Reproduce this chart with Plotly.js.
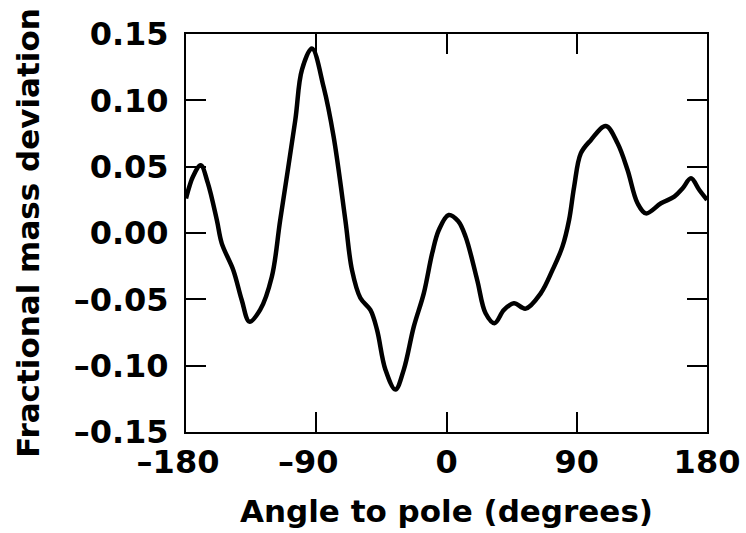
<!DOCTYPE html>
<html>
<head>
<meta charset="utf-8">
<script src="https://cdn.plot.ly/plotly-3.0.1.min.js"></script>
<style>html,body{margin:0;padding:0;background:#fff;}#chart{width:746px;height:533px;}</style>
</head>
<body>
<div id="chart"></div>
<script>
const angleDeg = [-180, -175, -169.8, -165, -158.7, -155.3, -147.3, -141.5, -136.2, -128.8, -120.7, -114.9, -104.5, -99.9, -93, -84.9, -78, -69.9, -65.3, -59.5, -52.6, -48, -42.2, -35.3, -29.5, -22.6, -15.7, -9.9, -5.3, 1.5, 8, 13.2, 21.2, 27, 33.2, 39.7, 46.6, 54.7, 65.1, 73.2, 80.1, 84.7, 88.2, 92.8, 99.7, 110.1, 118.2, 125.1, 132, 137.8, 148.2, 157.4, 163.2, 168.9, 174.7, 180];
const massDev = [0.026, 0.043, 0.051, 0.038, 0.0098, -0.0078, -0.028, -0.0505, -0.0668, -0.058, -0.033, 0.0098, 0.085, 0.123, 0.139, 0.110, 0.0726, 0.0098, -0.028, -0.049, -0.058, -0.073, -0.103, -0.118, -0.103, -0.0706, -0.0455, -0.0153, 0.0023, 0.0136, 0.009, -0.0028, -0.0354, -0.0605, -0.068, -0.058, -0.053, -0.057, -0.0455, -0.028, -0.0103, 0.0098, 0.035, 0.060, 0.070, 0.0807, 0.0676, 0.0475, 0.0224, 0.0148, 0.0224, 0.0274, 0.0337, 0.0412, 0.0324, 0.0249];
const xTicks = [-180, -90, 0, 90, 180];
// en space after negative labels keeps the digits centred on the tick, as in the reference
const xTickText = ['\u2013180\u2002', '\u201390\u2002', '0', '90', '180'];
const yTicks = [-0.15, -0.10, -0.05, 0.00, 0.05, 0.10, 0.15];
const yTickText = ['\u20130.15', '\u20130.10', '\u20130.05', '0.00', '0.05', '0.10', '0.15'];

const fontFam = 'DejaVu Sans, Liberation Sans, Arial, sans-serif';
const trace = {
  x: angleDeg, y: massDev, type: 'scatter', mode: 'lines',
  line: {color: '#000', width: 4.5, shape: 'spline', smoothing: 1},
  hoverinfo: 'skip'
};
const layout = {
  width: 746, height: 533,
  margin: {l: 186, r: 39, t: 34, b: 101},
  paper_bgcolor: '#fff', plot_bgcolor: '#fff',
  showlegend: false,
  font: {family: fontFam, color: '#000'},
  xaxis: {
    range: [-180, 180], tickvals: xTicks, ticktext: xTickText,
    ticks: 'inside', ticklen: 20, tickwidth: 2, tickcolor: '#000',
    showline: true, linewidth: 2, linecolor: '#000', mirror: 'allticks',
    showgrid: false, zeroline: false,
    tickfont: {family: fontFam, size: 32, color: '#000', weight: 'bold'},
    ticklabelstandoff: 1,
    title: {text: '<b>Angle to pole (degrees)</b>', font: {family: fontFam, size: 31, color: '#000'}, standoff: 20}
  },
  yaxis: {
    range: [-0.15, 0.15], tickvals: yTicks, ticktext: yTickText,
    ticks: 'inside', ticklen: 20, tickwidth: 2, tickcolor: '#000',
    showline: true, linewidth: 2, linecolor: '#000', mirror: 'allticks',
    showgrid: false, zeroline: false,
    tickfont: {family: fontFam, size: 32, color: '#000', weight: 'bold'},
    ticklabelstandoff: 9,
    title: {text: '<b>Fractional mass deviation</b>', font: {family: fontFam, size: 31, color: '#000'}, standoff: 25}
  }
};
Plotly.newPlot('chart', [trace], layout, {staticPlot: true, displayModeBar: false});
</script>
</body>
</html>
